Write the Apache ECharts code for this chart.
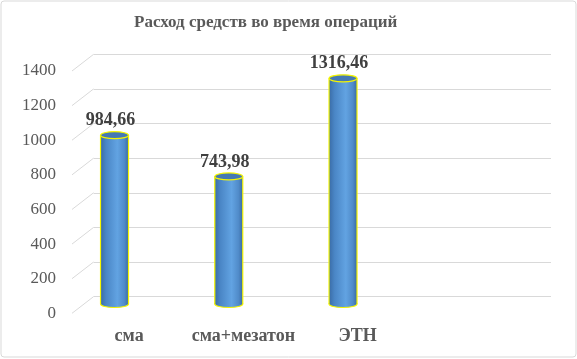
<!DOCTYPE html>
<html>
<head>
<meta charset="utf-8">
<script src="https://cdn.jsdelivr.net/npm/echarts@6/dist/echarts.min.js"></script>
<style>html,body{margin:0;padding:0;background:#fff;}#c{width:577px;height:359px;}</style>
</head>
<body>
<div id="c"></div>
<script>
const title = 'Расход средств во время операций';
const categories = ['сма', 'сма+мезатон', 'ЭТН', ''];
const values = [984.66, 743.98, 1316.46];
const valueLabels = ['984,66', '743,98', '1316,46'];
const yTicks = [0, 200, 400, 600, 800, 1000, 1200, 1400];

const FONT = '"Liberation Serif", "Times New Roman", serif';
const chart = echarts.init(document.getElementById('c'));

const bodyFill = new echarts.graphic.LinearGradient(0, 0, 1, 0, [
  {offset: 0, color: '#3a6ca6'},
  {offset: 0.2, color: '#4a86c6'},
  {offset: 0.6, color: '#62a3e2'},
  {offset: 0.85, color: '#508bc9'},
  {offset: 1, color: '#3a6ba3'}
]);

chart.setOption({
  animation: false,
  title: {
    text: title, left: 129, top: 9,
    textStyle: {fontFamily: FONT, fontSize: 17, fontWeight: 'bold', color: '#595959'}
  },
  graphic: [{
    type: 'rect', shape: {x: 1, y: 1, width: 575, height: 356, r: 3},
    style: {fill: 'none', stroke: '#d9d9d9', lineWidth: 1}, z: -10
  }],
  grid: [
    {left: 72, right: 48, top: 71, bottom: 45.7},
    {left: 93.6, right: 26, top: 54.3, bottom: 62.3},
    {left: 57.4, right: 62.6, top: 64, bottom: 55}
  ],
  xAxis: [
    {type: 'category', gridIndex: 0, data: categories,
     axisLine: {show: false}, axisTick: {show: false},
     axisLabel: {interval: 0, margin: 14, fontFamily: FONT, fontSize: 18, fontWeight: 'bold', color: '#595959'}},
    {type: 'category', gridIndex: 1, data: categories, show: false},
    {type: 'category', gridIndex: 2, data: categories, show: false}
  ],
  yAxis: [
    {type: 'value', gridIndex: 0, min: 0, max: 1400, interval: 200,
     axisLine: {show: false}, axisTick: {show: false}, splitLine: {show: false},
     axisLabel: {margin: 16, fontFamily: FONT, fontSize: 17, color: '#595959',
                 formatter: v => String(v)}},
    {type: 'value', gridIndex: 1, min: 0, max: 1400, interval: 200,
     axisLine: {show: false}, axisTick: {show: false}, axisLabel: {show: false},
     splitLine: {show: true, lineStyle: {color: '#d9d9d9', width: 1}}},
    {type: 'value', gridIndex: 2, min: 0, max: 1400, show: false}
  ],
  series: [
    {
      type: 'custom', xAxisIndex: 0, yAxisIndex: 0, silent: true,
      data: yTicks.map(v => [0, v]),
      renderItem: function (params, api) {
        const y = api.coord([0, api.value(1)])[1];
        const x0 = params.coordSys.x;
        return {type: 'line', shape: {x1: x0, y1: y, x2: x0 + 21.6, y2: y - 16.7},
                style: {stroke: '#d9d9d9', lineWidth: 1}};
      }
    },
    {
      type: 'custom', xAxisIndex: 2, yAxisIndex: 2, silent: true, z: 5,
      data: values.map((v, i) => [i, v]),
      renderItem: function (params, api) {
        const i = api.value(0);
        const top = api.coord([i, api.value(1)]);
        const base = api.coord([i, 0]);
        const cx = top[0], w = 28, rx = 14, ry = 3.5;
        const ty = top[1], by = base[1];
        return {
          type: 'group',
          children: [
            {type: 'ellipse', shape: {cx: cx, cy: by, rx: rx, ry: ry},
             style: {fill: bodyFill, stroke: '#f5f500', lineWidth: 1.2}},
            {type: 'rect', shape: {x: cx - rx, y: ty, width: w, height: by - ty},
             style: {fill: bodyFill}},
            {type: 'line', shape: {x1: cx - rx, y1: ty, x2: cx - rx, y2: by},
             style: {stroke: '#f5f500', lineWidth: 1.2}},
            {type: 'line', shape: {x1: cx + rx, y1: ty, x2: cx + rx, y2: by},
             style: {stroke: '#f5f500', lineWidth: 1.2}},
            {type: 'ellipse', shape: {cx: cx, cy: ty, rx: rx, ry: ry},
             style: {fill: '#4579b3', stroke: '#f5f500', lineWidth: 1.2}},
            {type: 'text', x: cx - 4, y: ty - ry - 2,
             style: {text: valueLabels[params.dataIndex], align: 'center', verticalAlign: 'bottom',
                     font: 'bold 18px ' + FONT, fill: '#404040'}}
          ]
        };
      }
    }
  ]
});
</script>
</body>
</html>
